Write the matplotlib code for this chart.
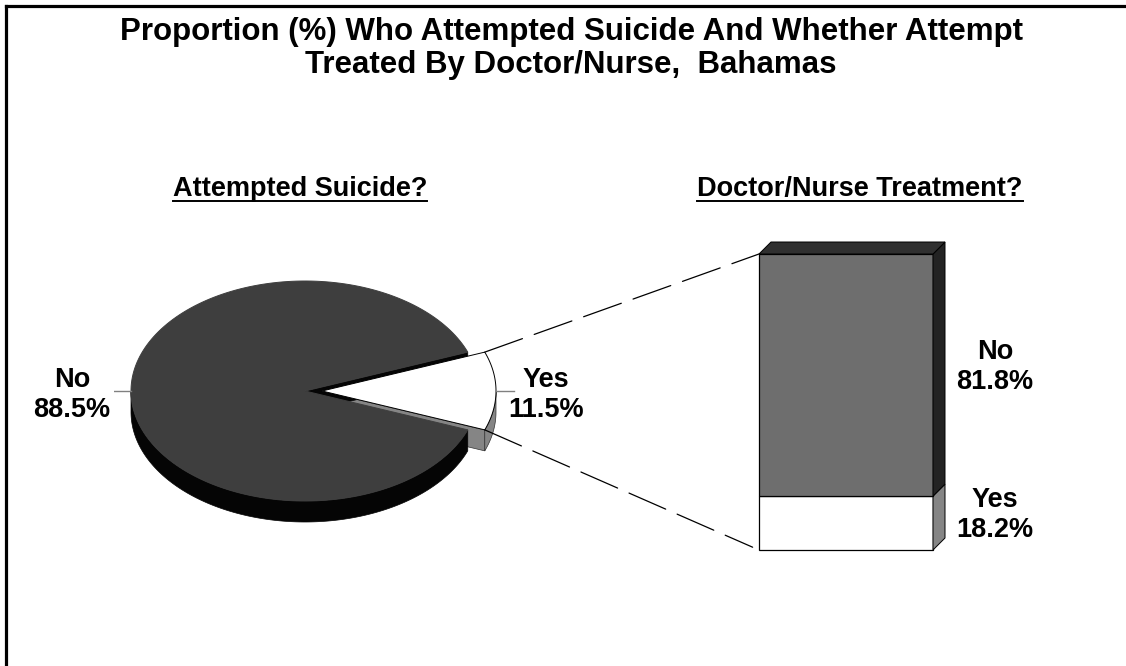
import matplotlib
matplotlib.use("Agg")
import matplotlib.pyplot as plt
import numpy as np
from matplotlib.patches import Polygon, ConnectionPatch
from matplotlib.lines import Line2D

plt.rcParams['font.family'] = ['Liberation Sans', 'DejaVu Sans']
plt.rcParams['font.weight'] = 'bold'

# ---- data ----
title = "Proportion (%) Who Attempted Suicide And Whether Attempt\nTreated By Doctor/Nurse,  Bahamas"
pie_title = "Attempted Suicide?"
bar_title = "Doctor/Nurse Treatment?"
pie_labels = ["No", "Yes"]
pie_values = [88.5, 11.5]
bar_labels = ["Yes", "No"]          # stacked bottom to top
bar_values = [18.2, 81.8]

W, H = 1126, 666
fig = plt.figure(figsize=(W / 100, H / 100), dpi=100)

LABEL_FS = 19.5
LABEL_LS = 1.2


def px_axes(left, top, width, height):
    ax = fig.add_axes([left / W, 1 - (top + height) / H, width / W, height / H])
    ax.set_axis_off()
    return ax


# ---------------- 3-D pie ----------------
RX, RY = 174.0, 110.0            # ellipse radii in pixels
CX, CY = 305.0, 391.0            # pie centre in pixels
xl, yl = (-1.1, 1.4), (-1.45, 1.1)
pax = px_axes(CX + xl[0] * RX, CY - yl[1] * RY, (xl[1] - xl[0]) * RX, (yl[1] - yl[0]) * RY)
pax.set_xlim(*xl)
pax.set_ylim(*yl)

depth = 21.0 / RY
explode = {"No": 0.0, "Yes": 17.0 / RX}
top_col = {"No": "#3e3e3e", "Yes": "#ffffff"}
side_col = {"No": "#050505", "Yes": "#858585"}

total = sum(pie_values)
yes_sweep = 360.0 * pie_values[1] / total
# "Yes" wedge centred on the right-hand side, "No" takes the rest
wedges = {
    "Yes": (-yes_sweep / 2, yes_sweep / 2),
    "No": (yes_sweep / 2, 360.0 - yes_sweep / 2),
}


def arc(a0, a1, n=200):
    t = np.radians(np.linspace(a0, a1, n))
    return np.cos(t), np.sin(t)


cut_faces, side_walls, tops = [], [], []
for name, (a0, a1) in wedges.items():
    mid = np.radians((a0 + a1) / 2)
    ox, oy = explode[name] * np.cos(mid), explode[name] * np.sin(mid)
    edge = side_col[name] if name == "No" else "#333333"
    # radial cut faces that turn towards the viewer
    for a, visible in ((a0, np.cos(np.radians(a0)) > 0), (a1, np.cos(np.radians(a1)) < 0)):
        if visible:
            c, s = np.cos(np.radians(a)), np.sin(np.radians(a))
            pts = [(ox, oy), (ox + c, oy + s), (ox + c, oy + s - depth), (ox, oy - depth)]
            cut_faces.append(Polygon(pts, closed=True, fc=side_col[name], ec=edge, lw=0.5))
    # outer rim wall, front half only
    if a0 < 0:
        lo, hi = a0, min(a1, 0.0)
    else:
        lo, hi = max(a0, 180.0), min(a1, 360.0)
    if hi > lo:
        x, y = arc(lo, hi)
        pts = np.column_stack([np.r_[x, x[::-1]] + ox, np.r_[y, y[::-1] - depth] + oy])
        side_walls.append(Polygon(pts, closed=True, fc=side_col[name], ec=edge, lw=0.5))
    x, y = arc(a0, a1)
    pts = np.column_stack([np.r_[0, x] + ox, np.r_[0, y] + oy])
    tops.append(Polygon(pts, closed=True, fc=top_col[name],
                        ec="black" if name == "Yes" else top_col[name], lw=0.7))

for p in cut_faces + side_walls + tops:
    pax.add_patch(p)

# pie labels with short leader ticks
tick = 18.0 / RX
pax.plot([-1.0, -1.0 - tick], [0, 0], color="#808080", lw=1.0)
pax.text(-1.34, -0.04, f"{pie_labels[0]}\n{pie_values[0]:.1f}%", ha="center", va="center",
         fontsize=LABEL_FS, fontweight="bold", linespacing=LABEL_LS)
yes_x = 1.0 + explode["Yes"]
pax.plot([yes_x, yes_x + tick], [0, 0], color="#808080", lw=1.0)
pax.text(1.385, -0.04, f"{pie_labels[1]}\n{pie_values[1]:.1f}%", ha="center", va="center",
         fontsize=LABEL_FS, fontweight="bold", linespacing=LABEL_LS)

# ---------------- 3-D stacked bar ----------------
BW = 174.0                 # bar width in px
SY = 2.96                  # px per percentage point
BL, BB = 759.0, 550.0      # bar front-face left / bottom in px
bxl, byl = (-0.2, 1.6), (-6.0, 110.0)
bax = px_axes(BL + bxl[0] * BW, BB - byl[1] * SY, (bxl[1] - bxl[0]) * BW, (byl[1] - byl[0]) * SY)
bax.set_xlim(*bxl)
bax.set_ylim(*byl)

ddx, ddy = 12.0 / BW, 12.0 / SY
front_col = {"No": "#6e6e6e", "Yes": "#ffffff"}
right_col = {"No": "#232323", "Yes": "#858585"}

bottom = 0.0
for name, v in zip(bar_labels, bar_values):
    bax.bar(0.5, v, width=1.0, bottom=bottom, color=front_col[name], edgecolor="black", lw=0.9)
    side = [(1, bottom), (1 + ddx, bottom + ddy), (1 + ddx, bottom + v + ddy), (1, bottom + v)]
    bax.add_patch(Polygon(side, closed=True, fc=right_col[name], ec="black", lw=0.7))
    bax.text(1.356, bottom + v / 2 + 0.7 * ddy, f"{name}\n{v:.1f}%", ha="center", va="center",
             fontsize=LABEL_FS, fontweight="bold", linespacing=LABEL_LS)
    bottom += v
top_face = [(0, bottom), (ddx, bottom + ddy), (1 + ddx, bottom + ddy), (1, bottom)]
bax.add_patch(Polygon(top_face, closed=True, fc="#303030", ec="black", lw=0.7))

# dashed connectors from the exploded slice to the bar
ya0, ya1 = wedges["Yes"]
for a, yb, shrink in ((ya1, bottom, 0), (ya0, 0.0, 5)):
    xa = (explode["Yes"] + np.cos(np.radians(a)), np.sin(np.radians(a)))
    con = ConnectionPatch(xyA=xa, coordsA=pax.transData, xyB=(0.0, yb), coordsB=bax.transData,
                          color="black", lw=0.9, linestyle=(0, (32, 10)), shrinkA=0, shrinkB=shrink)
    fig.add_artist(con)

# ---------------- titles ----------------
fig.text(571 / W, 1 - 48.5 / H, title, ha="center", va="center", fontsize=22.5,
         fontweight="bold", linespacing=1.17)

sub_texts = []
for txt, cx in ((pie_title, 300), (bar_title, 860)):
    t = fig.text(cx / W, 1 - 196 / H, txt, ha="center", va="baseline", fontsize=19.5,
                 fontweight="bold")
    sub_texts.append(t)

fig.canvas.draw()
r = fig.canvas.get_renderer()
for t in sub_texts:
    bb = t.get_window_extent(r)
    yline = 1 - 200.5 / H
    fig.add_artist(Line2D([bb.x0 / W, bb.x1 / W], [yline, yline], color="black", lw=1.4))

# page frame (top and left edges)
fig.add_artist(Line2D([5.5 / W, 1.0], [1 - 5.5 / H, 1 - 5.5 / H], color="black", lw=2.3))
fig.add_artist(Line2D([5.5 / W, 5.5 / W], [0.0, 1 - 5.5 / H], color="black", lw=2.3))

fig.savefig("out.png", dpi=100, facecolor="white")
